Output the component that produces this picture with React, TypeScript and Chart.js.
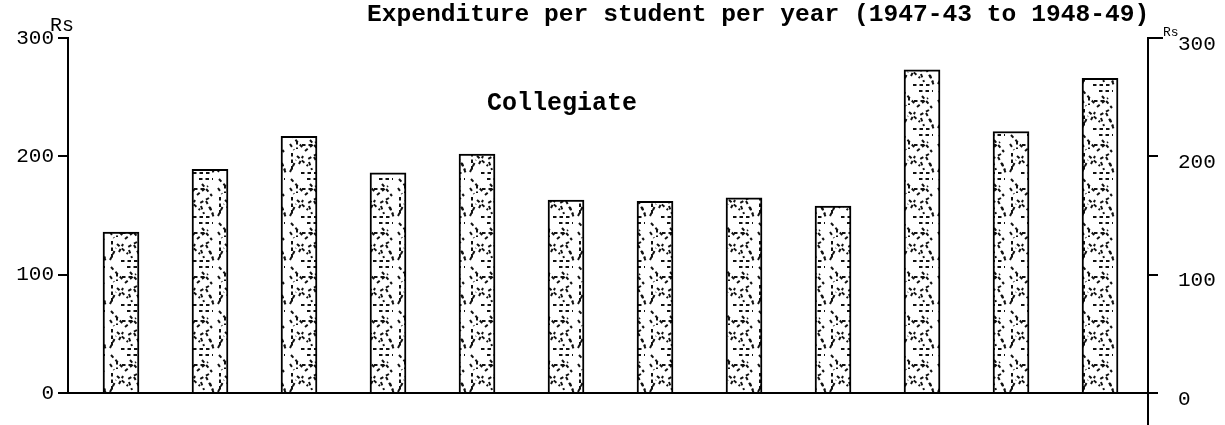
import React, { useEffect, useRef } from 'react';
import { Chart, registerables } from 'chart.js';

Chart.register(...registerables);

// ---- data ----
const categories = [
  'College 1', 'College 2', 'College 3', 'College 4', 'College 5', 'College 6',
  'College 7', 'College 8', 'College 9', 'College 10', 'College 11', 'College 12',
];
const values = [136, 189, 217, 186, 202, 163, 162, 165, 158, 273, 221, 266];
const tickValues = [0, 100, 200, 300];
const titleText = 'Expenditure per student per year (1947-43 to 1948-49)';
const seriesLabel = 'Collegiate';
const unitLabel = 'Rs';

const MONO = '"Liberation Mono", "DejaVu Sans Mono", monospace';

function makePattern(): CanvasPattern | string {
  const c = document.createElement('canvas');
  c.width = 36;
  c.height = 44;
  const g = c.getContext('2d');
  if (!g) return '#bbbbbb';
  g.fillStyle = '#ffffff';
  g.fillRect(0, 0, 36, 44);
  g.strokeStyle = '#111111';
  g.lineWidth = 2;
  g.setLineDash([3.5, 3]);
  const strokes: number[][] = [
    [3, 3, 15, 16], [19, 3, 33, 3], [22, 8, 32, 20], [4, 21, 4, 39],
    [9, 24, 20, 34], [13, 41, 31, 41], [26, 25, 33, 38], [9, 9, 9, 17],
    [17, 19, 28, 10], [2, 40, 8, 28], [21, 30, 24, 38], [14, 13, 26, 13],
    [29, 22, 20, 27], [11, 32, 15, 24], [30, 31, 34, 42], [2, 12, 6, 18],
  ];
  for (const [x1, y1, x2, y2] of strokes) {
    g.beginPath();
    g.moveTo(x1, y1);
    g.lineTo(x2, y2);
    g.stroke();
  }
  return g.createPattern(c, 'repeat') || '#bbbbbb';
}

const decorPlugin = {
  id: 'decor',
  afterDraw(chart: any) {
    const { ctx, chartArea, scales } = chart;
    const yTop = scales.y.getPixelForValue(tickValues[tickValues.length - 1]);
    ctx.save();
    ctx.strokeStyle = '#000';
    ctx.lineWidth = 2;
    ctx.beginPath();
    ctx.moveTo(chartArea.right, chartArea.bottom);
    ctx.lineTo(chartArea.right, 425);
    ctx.moveTo(chartArea.right, yTop);
    ctx.lineTo(chartArea.right + 15, yTop);
    ctx.stroke();

    ctx.fillStyle = '#000';
    ctx.textBaseline = 'middle';
    ctx.textAlign = 'left';
    ctx.font = `bold 24.6px ${MONO}`;
    ctx.fillText(titleText, 367, 15);
    ctx.font = `bold 25px ${MONO}`;
    ctx.fillText(seriesLabel, 487, 104);
    ctx.font = `20px ${MONO}`;
    ctx.fillText(unitLabel, 50, 26);
    ctx.font = `13px ${MONO}`;
    ctx.fillText(unitLabel, 1163, 33);
    ctx.restore();
  },
};

export default function App() {
  const ref = useRef<HTMLCanvasElement | null>(null);

  useEffect(() => {
    const canvas = ref.current;
    if (!canvas) return;
    const pattern = makePattern();
    const tickFont = { family: MONO, size: 21 };
    const chart = new Chart(canvas, {
      type: 'bar',
      data: {
        labels: categories,
        datasets: [
          {
            label: seriesLabel,
            data: values.map((v, i) => ({ x: i, y: v })),
            backgroundColor: pattern as any,
            borderColor: '#000',
            borderWidth: 2,
            barThickness: 36,
          },
        ],
      },
      options: {
        animation: false,
        responsive: true,
        maintainAspectRatio: false,
        layout: { padding: { top: 38, bottom: 0, left: 0, right: 0 } },
        plugins: {
          legend: { display: false },
          title: { display: false },
          tooltip: { enabled: false },
        },
        scales: {
          x: {
            type: 'linear',
            min: -0.5955,
            max: 11.539,
            offset: false,
            ticks: { display: false },
            grid: { display: false, offset: false },
            border: { display: true, color: '#000', width: 2 },
            afterFit: (s: any) => {
              s.height = 32;
              s.paddingLeft = 0;
              s.paddingRight = 0;
            },
          },
          y: {
            position: 'left',
            min: 0,
            max: 300,
            afterBuildTicks: (s: any) => {
              s.ticks = tickValues.map((v) => ({ value: v }));
            },
            ticks: { color: '#000', font: tickFont, padding: 4 },
            grid: {
              drawOnChartArea: false,
              drawTicks: true,
              tickLength: 10,
              color: '#000',
              lineWidth: 2,
            },
            border: { display: true, color: '#000', width: 2 },
            afterFit: (s: any) => {
              s.width = 68;
              s.paddingTop = 0;
              s.paddingBottom = 0;
            },
          },
          y2: {
            position: 'right',
            min: 0,
            max: 300,
            afterBuildTicks: (s: any) => {
              s.ticks = tickValues.map((v) => ({ value: v }));
            },
            ticks: { color: '#000', font: tickFont, padding: 20, labelOffset: 6 },
            grid: {
              drawOnChartArea: false,
              drawTicks: true,
              tickLength: 10,
              color: '#000',
              lineWidth: 2,
            },
            border: { display: true, color: '#000', width: 2 },
            afterFit: (s: any) => {
              s.width = 77;
              s.paddingTop = 0;
              s.paddingBottom = 0;
            },
          },
        },
      } as any,
      plugins: [decorPlugin],
    });
    return () => chart.destroy();
  }, []);

  return (
    <div style={{ position: 'fixed', left: 0, top: 0, width: 1225, height: 425, background: '#fff' }}>
      <canvas ref={ref} />
    </div>
  );
}
